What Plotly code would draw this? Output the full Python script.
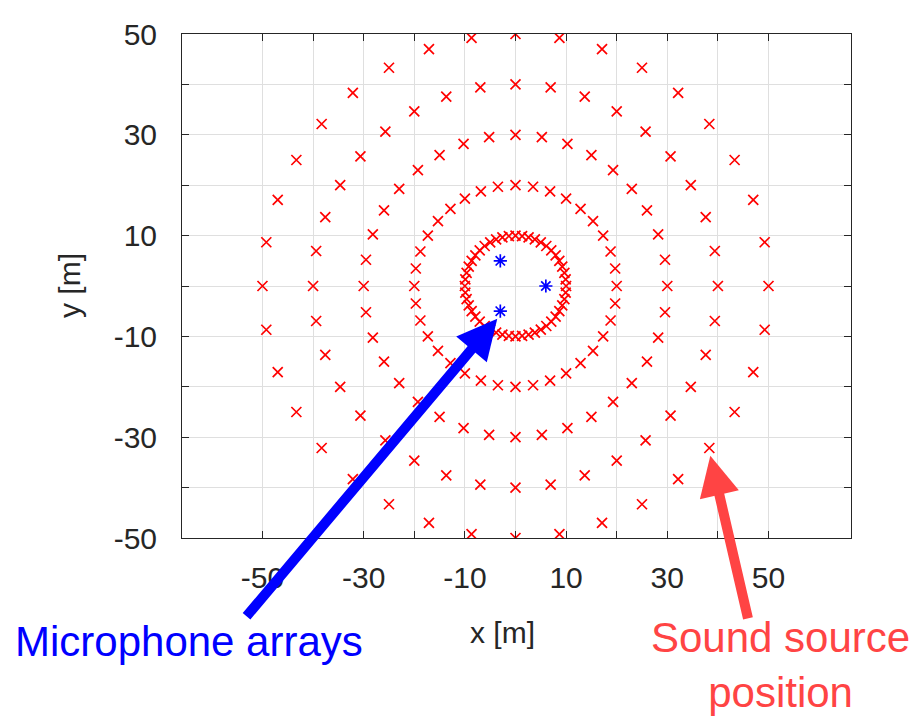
import numpy as np
import plotly.graph_objects as go

# ---- data ----
ring_radii = [10, 20, 30, 40, 50]          # m
ring_counts = [48, 36, 36, 36, 36]         # sources per ring
mic_x = [-3, 6, -3]
mic_y = [5, 0, -5]
tick_vals = [-50, -40, -30, -20, -10, 0, 10, 20, 30, 40, 50]
tick_text = ["-50", "", "-30", "", "-10", "", "10", "", "30", "", "50"]

src_x, src_y = [], []
for r, n in zip(ring_radii, ring_counts):
    ang = np.arange(n) * 2 * np.pi / n
    src_x.extend(r * np.cos(ang))
    src_y.extend(r * np.sin(ang))

FONT = "Liberation Sans, Arial, sans-serif"
AX = "#262626"

fig = go.Figure()
fig.add_trace(go.Scatter(
    x=src_x, y=src_y, mode="markers",
    marker=dict(symbol="x-thin", size=10, line=dict(color="#ff0000", width=1.7)),
    showlegend=False, hoverinfo="skip"))
fig.add_trace(go.Scatter(
    x=mic_x, y=mic_y, mode="markers",
    marker=dict(symbol="asterisk", size=11, line=dict(color="#0000ff", width=1.7)),
    showlegend=False, hoverinfo="skip"))

axis_common = dict(
    tickvals=tick_vals, ticktext=tick_text,
    ticks="inside", ticklen=7, tickcolor=AX, tickwidth=1,
    showline=True, linecolor=AX, linewidth=1, mirror="ticks",
    showgrid=True, gridcolor="#dfdfdf", gridwidth=1,
    zeroline=False,
    tickfont=dict(family=FONT, size=30, color=AX),
)

fig.update_layout(
    width=923, height=721,
    margin=dict(l=182, r=72, t=34, b=183),
    paper_bgcolor="white", plot_bgcolor="white",
    xaxis=dict(range=[-65.9, 66.3], ticklabelstandoff=13, **axis_common),
    yaxis=dict(range=[-50, 50], ticklabelstandoff=18, **axis_common),
    annotations=[
        dict(text="x [m]", xref="paper", yref="paper", x=(502 - 182) / 669, y=(538 - 632) / 504,
             showarrow=False, font=dict(family=FONT, size=30, color=AX),
             xanchor="center", yanchor="middle"),
        dict(text="y [m]", xref="paper", yref="paper", x=(69 - 182) / 669, y=(538 - 286) / 504,
             showarrow=False, textangle=-90, font=dict(family=FONT, size=30, color=AX),
             xanchor="center", yanchor="middle"),
        # arrows
        dict(x=-3.6, y=-6.5, xref="x", yref="y", ax=-252, ay=299, axref="pixel", ayref="pixel",
             text="", showarrow=True, arrowhead=2, arrowsize=0.8, arrowwidth=10,
             arrowcolor="#0000ff"),
        dict(x=38.5, y=-33.7, xref="x", yref="y", ax=38, ay=164, axref="pixel", ayref="pixel",
             text="", showarrow=True, arrowhead=2, arrowsize=0.8, arrowwidth=10,
             arrowcolor="#ff4444"),
        dict(text="Microphone arrays", xref="paper", yref="paper",
             x=(189 - 182) / 669, y=(538 - 641) / 504, showarrow=False,
             font=dict(family=FONT, size=42, color="#0000ff"),
             xanchor="center", yanchor="middle"),
        dict(text="Sound source<br>position", xref="paper", yref="paper",
             x=(780 - 182) / 669, y=(538 - 665) / 504, showarrow=False,
             font=dict(family=FONT, size=42, color="#ff4444"),
             xanchor="center", yanchor="middle"),
    ],
)

fig.write_html("out.html")
